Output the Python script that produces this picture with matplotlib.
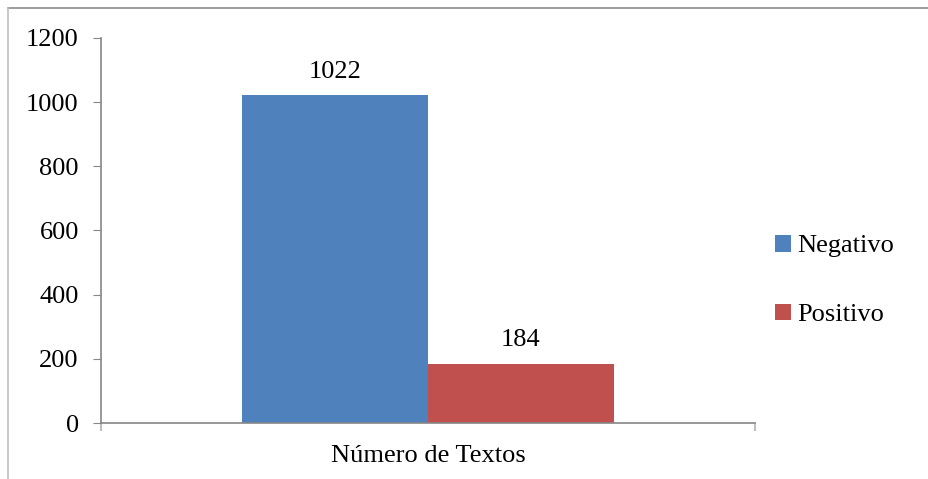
import matplotlib.pyplot as plt
from matplotlib.lines import Line2D

plt.rcParams['font.family'] = ['Liberation Serif', 'DejaVu Serif']

categoria = 'Número de Textos'
series = ['Negativo', 'Positivo']
valores = [1022, 184]
cores = ['#4F81BD', '#C0504D']

fig = plt.figure(figsize=(9.29, 4.79), dpi=100)
ax = fig.add_axes([0.1087, 0.1169, 0.704, 0.8038])

largura = 0.284
pos = [-largura / 2, largura / 2]
for p, v, c, nome in zip(pos, valores, cores, series):
    ax.bar(p, v, width=largura, color=c, label=nome)
    ax.annotate(str(v), (p, v), xytext=(0, 9), textcoords='offset points',
                ha='center', va='bottom', fontsize=19)

ax.set_xlim(-0.5, 0.5)
ax.set_ylim(0, 1200)
ax.set_yticks(range(0, 1201, 200))

# category label in the middle, tick marks only at the axis ends
ax.set_xticks([0])
ax.set_xticklabels([categoria])
ax.set_xticks([-0.5, 0.5], minor=True)
ax.tick_params(axis='x', which='major', length=0, pad=16, labelsize=19)
ax.tick_params(axis='x', which='minor', length=6, color='#BFBFBF', width=1.5)
ax.tick_params(axis='y', length=6, color='#868686', pad=10, labelsize=19)

for s in ['top', 'right']:
    ax.spines[s].set_visible(False)
for s in ['left', 'bottom']:
    ax.spines[s].set_color('#868686')
    ax.spines[s].set_linewidth(1.2)

ax.legend(loc='center left', bbox_to_anchor=(1.01, 0.37), frameon=False,
          fontsize=19, handlelength=0.6, handleheight=0.6,
          handletextpad=0.25, labelspacing=1.75, borderpad=0)

# outer frame of the chart area
fig.add_artist(Line2D([8 / 929, 1.0], [1 - 8 / 479, 1 - 8 / 479],
                      transform=fig.transFigure, color='#8C8C8C', lw=1.2))
fig.add_artist(Line2D([8 / 929, 8 / 929], [1 - 8 / 479, 0.0],
                      transform=fig.transFigure, color='#BFBFBF', lw=1.2))

fig.savefig('out.png', dpi=100)
